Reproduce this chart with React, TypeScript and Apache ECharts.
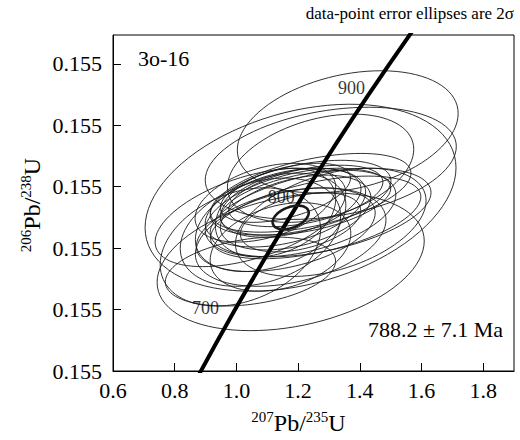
import React, { useEffect, useRef } from "react";
import * as echarts from "echarts";

// Error ellipses (2σ): 207Pb/235U, 2σ, 206Pb/238U, 2σ, rho
const pb207U235 = [1.361, 1.208, 1.306, 1.273, 1.176, 1.176, 1.159, 1.208, 1.127, 1.208, 1.111, 1.241, 1.078, 1.143, 1.176, 1.273, 1.0455, 1.094, 1.208, 1.013, 1.306, 1.0455, 1.225, 1.16, 1.2244, 1.192, 1.159, 1.257];
const err207 = [0.358, 0.504, 0.407, 0.302, 0.433, 0.228, 0.26, 0.293, 0.195, 0.309, 0.244, 0.325, 0.26, 0.228, 0.309, 0.358, 0.309, 0.228, 0.195, 0.26, 0.309, 0.276, 0.25, 0.29, 0.276, 0.244, 0.211, 0.341];
const pb206U238 = [0.14394, 0.13321, 0.13881, 0.13801, 0.12279, 0.1324, 0.1316, 0.13321, 0.1308, 0.1308, 0.1292, 0.13401, 0.1276, 0.1252, 0.1268, 0.1308, 0.13, 0.1324, 0.1292, 0.1252, 0.1292, 0.12119, 0.1335, 0.128, 0.1324, 0.1308, 0.13401, 0.13];
const err206 = [0.00994, 0.01522, 0.00913, 0.00881, 0.01122, 0.00561, 0.00641, 0.00609, 0.00721, 0.00721, 0.00801, 0.00641, 0.00881, 0.00721, 0.00801, 0.00721, 0.00801, 0.00641, 0.00481, 0.00962, 0.00881, 0.00561, 0.005, 0.0068, 0.00529, 0.00609, 0.00481, 0.00673];
const rhos = [0.3, 0.32, 0.3, 0.35, 0.3, 0.4, 0.4, 0.45, 0.3, 0.4, 0.35, 0.5, 0.3, 0.3, 0.35, 0.45, 0.5, 0.4, 0.4, 0.3, 0.4, 0.3, 0.45, 0.4, 0.45, 0.4, 0.5, 0.5];

// Concordia age ellipse (788.2 ± 7.1 Ma)
const meanEllipse = [1.176, 0.0585, 0.13, 0.00192, 0.4];

// Concordia curve points (ages in Ma)
const concordiaAges = [640, 700, 750, 800, 850, 900, 960];
const concordiaX = [0.8783, 0.9925, 1.0931, 1.1987, 1.3097, 1.4263, 1.574];
const concordiaY = [0.10438, 0.11471, 0.12338, 0.13213, 0.14094, 0.14983, 0.16058];
const labelledAges = [700, 800, 900];

const xTickLabels = ["0.6", "0.8", "1.0", "1.2", "1.4", "1.6", "1.8"];
const yTickLabels = ["0.155", "0.155", "0.155", "0.155", "0.155", "0.155"];

const FONT = "Liberation Serif";

export default function App() {
  const ref = useRef<HTMLDivElement>(null);
  useEffect(() => {
    document.body.style.margin = "0";
    if (!ref.current) return;
    const chart = echarts.init(ref.current, null, { renderer: "svg" });

    const ellipseData = pb207U235.map((x, i) => [x, err207[i], pb206U238[i], err206[i], rhos[i]]);
    const renderEllipse = (width: number) => (params: any, api: any) => {
      const cx = api.value(0), sx = api.value(1), cy = api.value(2), sy = api.value(3), r = api.value(4);
      const pts: number[][] = [];
      const n = 90;
      const q = Math.sqrt(1 - r * r);
      for (let i = 0; i < n; i++) {
        const t = (i / n) * Math.PI * 2;
        pts.push(api.coord([cx + sx * Math.cos(t), cy + sy * (r * Math.cos(t) + q * Math.sin(t))]));
      }
      return {
        type: "polygon",
        shape: { points: pts },
        style: { fill: "none", stroke: "#1a1a1a", lineWidth: width },
      };
    };

    const labelOffsets: Record<number, number[]> = { 700: [-12, -3], 800: [0, -7], 900: [0, -8] };
    const ageLabelData = labelledAges.map((a) => {
      const i = concordiaAges.indexOf(a);
      return { value: [concordiaX[i], concordiaY[i]], name: String(a), label: { offset: labelOffsets[a] } };
    });

    const richName = {
      m: { fontFamily: FONT, fontSize: 24, color: "#000", lineHeight: 26, verticalAlign: "bottom" },
      sup: { fontFamily: FONT, fontSize: 15, color: "#000", lineHeight: 26, verticalAlign: "top" },
    };

    chart.setOption({
      animation: false,
      grid: {
        left: 113,
        right: 6,
        top: 35,
        bottom: 64,
        show: true,
        borderColor: "#000",
        borderWidth: 1,
        backgroundColor: "transparent",
      },
      xAxis: {
        type: "value",
        min: 0.6,
        max: 1.9,
        interval: 0.2,
        axisLine: { lineStyle: { color: "#000", width: 1 } },
        axisTick: { inside: true, length: 8, lineStyle: { color: "#000" } },
        splitLine: { show: false },
        axisLabel: {
          margin: 8,
          fontFamily: FONT,
          fontSize: 22,
          color: "#000",
          showMaxLabel: false,
          formatter: (v: number) => {
            const idx = Math.round((v - 0.6) / 0.2);
            return Math.abs(v - (0.6 + idx * 0.2)) < 1e-6 && idx < xTickLabels.length ? xTickLabels[idx] : "";
          },
        },
        name: "{sup|207}{m|Pb/}{sup|235}{m|U}",
        nameLocation: "middle",
        nameGap: 38,
        nameTextStyle: {
          padding: [0, 30, 0, 0],
          rich: richName,
        },
      },
      yAxis: {
        type: "value",
        min: 0.105,
        max: 0.1597,
        interval: 0.01,
        axisLine: { lineStyle: { color: "#000", width: 1 } },
        axisTick: { inside: true, length: 8, lineStyle: { color: "#000" } },
        splitLine: { show: false },
        axisLabel: {
          margin: 11,
          fontFamily: FONT,
          fontSize: 22,
          color: "#000",
          showMaxLabel: false,
          formatter: (v: number) => {
            const idx = Math.round((v - 0.105) / 0.01);
            return Math.abs(v - (0.105 + idx * 0.01)) < 1e-6 && idx < yTickLabels.length ? yTickLabels[idx] : "";
          },
        },
      },
      series: [
        {
          type: "custom",
          silent: true,
          renderItem: renderEllipse(0.9),
          encode: { x: 0, y: 2 },
          data: ellipseData,
          z: 2,
        },
        {
          type: "line",
          silent: true,
          data: concordiaX.map((x, i) => [x, concordiaY[i]]),
          showSymbol: false,
          smooth: true,
          lineStyle: { color: "#000", width: 4 },
          clip: true,
          z: 3,
        },
        {
          type: "custom",
          silent: true,
          renderItem: renderEllipse(2.6),
          encode: { x: 0, y: 2 },
          data: [meanEllipse],
          z: 4,
        },
        {
          type: "scatter",
          silent: true,
          symbolSize: 0,
          data: ageLabelData,
          z: 5,
          label: {
            show: true,
            position: "left",
            distance: 3,
            formatter: (p: any) => p.name,
            fontFamily: FONT,
            fontSize: 18,
            color: "#000",
          },
        },
      ],
      graphic: [
        {
          type: "text",
          x: 31,
          y: 205,
          rotation: Math.PI / 2,
          style: {
            text: "{sup|206}{m|Pb/}{sup|238}{m|U}",
            rich: richName,
            align: "center",
            verticalAlign: "middle",
          },
        },
        {
          type: "text",
          right: 6,
          top: 5,
          style: { text: "data-point error ellipses are 2σ", fontFamily: FONT, fontSize: 17, fill: "#000" },
        },
        {
          type: "text",
          left: 138,
          top: 47,
          style: { text: "3o-16", fontFamily: FONT, fontSize: 22, fill: "#000" },
        },
        {
          type: "text",
          right: 17,
          top: 318,
          style: { text: "788.2 ± 7.1 Ma", fontFamily: FONT, fontSize: 22, fill: "#000" },
        },
      ],
    });
    return () => chart.dispose();
  }, []);
  return <div ref={ref} style={{ width: 520, height: 440 }} />;
}
